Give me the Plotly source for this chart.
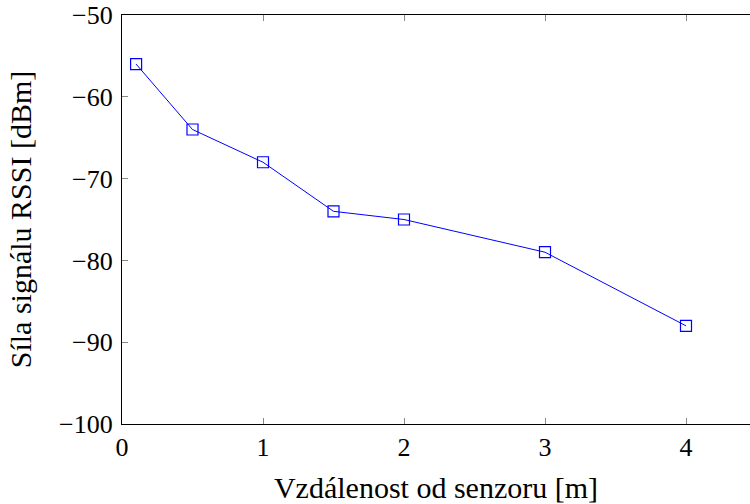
import plotly.graph_objects as go

distance_m = [0.1, 0.5, 1, 1.5, 2, 3, 4]
rssi_dbm = [-56, -64, -68, -74, -75, -79, -88]
x_ticks = [0, 1, 2, 3, 4]
y_ticks = [-100, -90, -80, -70, -60, -50]

FONT = "Liberation Serif"
FS_TICK = 26
FS_TITLE = 30

fig = go.Figure()
fig.add_trace(go.Scatter(
    x=distance_m, y=rssi_dbm, mode="lines+markers",
    line=dict(color="#0000ff", width=1),
    marker=dict(symbol="square-open", size=11, color="#0000ff", line=dict(width=1.2)),
    showlegend=False,
))

fig.update_layout(
    width=750, height=504,
    margin=dict(l=122, r=0, t=15, b=80),
    paper_bgcolor="white", plot_bgcolor="white",
    font=dict(family=FONT, size=FS_TICK, color="black"),
    xaxis=dict(
        range=[0, 628 / 141], tickvals=x_ticks, ticktext=[str(v) for v in x_ticks],
        showline=True, linecolor="black", linewidth=1.2, mirror="ticks",
        ticks="inside", ticklen=6, tickcolor="#888", tickwidth=1,
        showgrid=False, zeroline=False, automargin=False, ticklabeloverflow="allow",
        title=dict(text="Vzdálenost od senzoru [m]", standoff=15, font=dict(size=FS_TITLE)),
        tickfont=dict(size=FS_TICK),
    ),
    yaxis=dict(
        range=[-100, -50], tickvals=y_ticks,
        showline=True, linecolor="black", linewidth=1.2,
        ticks="inside", ticklen=6, tickcolor="#888", tickwidth=1,
        showgrid=False, zeroline=False, automargin=False, ticklabeloverflow="allow",
        ticklabelstandoff=3,
        title=dict(text="Síla signálu RSSI [dBm]", standoff=18, font=dict(size=FS_TITLE)),
        tickfont=dict(size=FS_TICK),
    ),
)

fig.write_html(
    "out.html",
    config={"displayModeBar": False},
    post_script="document.body.style.margin='0';document.body.style.overflow='hidden';",
)
